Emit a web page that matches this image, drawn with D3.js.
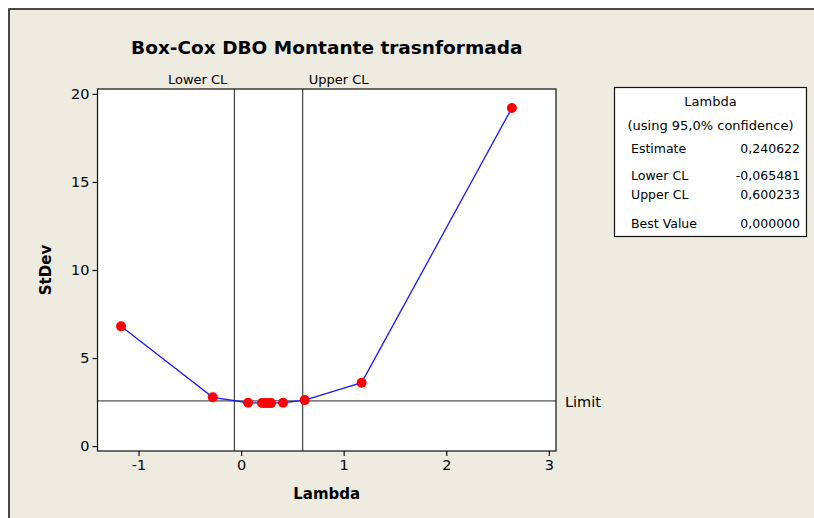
<!DOCTYPE html>
<html>
<head>
<meta charset="utf-8">
<script src="https://cdn.jsdelivr.net/npm/d3@7"></script>
<style>
  html, body { margin: 0; padding: 0; background: #ffffff; }
  svg { display: block; }
  text { font-family: "DejaVu Sans", Verdana, sans-serif; fill: #000; }
</style>
</head>
<body>
<svg id="chart" width="814" height="518"></svg>
<script>
// Box-Cox search: lambda values tried and the resulting standard deviation
const lambdas = [-1.17, -0.276, 0.068, 0.204, 0.234, 0.263, 0.292, 0.409, 0.62, 1.175, 2.64];
const stdevs  = [6.8, 2.77, 2.46, 2.45, 2.44, 2.44, 2.44, 2.46, 2.61, 3.6, 19.2];

const lowerCL = -0.065481;
const upperCL = 0.600233;
const limit = 2.57;

const xTicks = [-1, 0, 1, 2, 3];
const yTicks = [0, 5, 10, 15, 20];

const tableRows = [
  ["Estimate", "0,240622"],
  ["Lower CL", "-0,065481"],
  ["Upper CL", "0,600233"],
  ["Best Value", "0,000000"]
];

const svg = d3.select("#chart");
const W = 814, H = 518;

// outer panel
svg.append("rect").attr("x", 0).attr("y", 0).attr("width", W).attr("height", H).attr("fill", "#ffffff");
svg.append("rect").attr("x", 9).attr("y", 9).attr("width", W).attr("height", H)
  .attr("fill", "#eeebe1").attr("stroke", "#111").attr("stroke-width", 1.5);

const plot = { left: 97.5, top: 89, right: 556, bottom: 451 };

const x = d3.scaleLinear().domain([-1.4, 3.07]).range([plot.left, plot.right]);
const y = d3.scaleLinear().domain([-0.28, 20.28]).range([plot.bottom, plot.top]);

// plot area
svg.append("rect")
  .attr("x", plot.left).attr("y", plot.top)
  .attr("width", plot.right - plot.left).attr("height", plot.bottom - plot.top)
  .attr("fill", "#ffffff");

// confidence limits
[lowerCL, upperCL].forEach(v => {
  svg.append("line")
    .attr("x1", x(v)).attr("x2", x(v)).attr("y1", plot.top).attr("y2", plot.bottom)
    .attr("stroke", "#444").attr("stroke-width", 1.2);
});
svg.append("text").attr("x", x(lowerCL) - 7).attr("y", 84)
  .attr("text-anchor", "end").attr("font-size", 13).text("Lower CL");
svg.append("text").attr("x", x(upperCL) + 6).attr("y", 84)
  .attr("text-anchor", "start").attr("font-size", 13).text("Upper CL");

// limit line
svg.append("line")
  .attr("x1", plot.left).attr("x2", plot.right).attr("y1", y(limit)).attr("y2", y(limit))
  .attr("stroke", "#555").attr("stroke-width", 1.2);
svg.append("text").attr("x", 565).attr("y", y(limit) + 6)
  .attr("font-size", 14.5).text("Limit");

// series
const pts = lambdas.map((l, i) => [l, stdevs[i]]);
svg.append("path")
  .datum(pts)
  .attr("fill", "none").attr("stroke", "#1a1aff").attr("stroke-width", 1.3)
  .attr("d", d3.line().x(d => x(d[0])).y(d => y(d[1])));
svg.selectAll("circle.pt").data(pts).enter().append("circle")
  .attr("class", "pt")
  .attr("cx", d => x(d[0])).attr("cy", d => y(d[1])).attr("r", 5)
  .attr("fill", "#ff0000");

// frame
svg.append("rect")
  .attr("x", plot.left).attr("y", plot.top)
  .attr("width", plot.right - plot.left).attr("height", plot.bottom - plot.top)
  .attr("fill", "none").attr("stroke", "#111").attr("stroke-width", 1.2);

// axes (plain hyphen for negatives)
const fmt = d => String(d);
const xAxis = svg.append("g").attr("transform", `translate(0,${plot.bottom})`)
  .call(d3.axisBottom(x).tickValues(xTicks).tickSize(5).tickPadding(4).tickFormat(fmt));
const yAxis = svg.append("g").attr("transform", `translate(${plot.left},0)`)
  .call(d3.axisLeft(y).tickValues(yTicks).tickSize(5).tickPadding(3).tickFormat(fmt));
[xAxis, yAxis].forEach(g => {
  g.select(".domain").remove();
  g.selectAll(".tick line").attr("stroke", "#111").attr("stroke-width", 1.2);
  g.selectAll(".tick text").attr("font-size", 14.5).attr("font-family", "DejaVu Sans, Verdana, sans-serif").attr("fill", "#000");
});

// titles
svg.append("text").attr("x", (plot.left + plot.right) / 2).attr("y", 54)
  .attr("text-anchor", "middle").attr("font-size", 18.5).attr("font-weight", "bold")
  .text("Box-Cox DBO Montante trasnformada");
svg.append("text").attr("x", (plot.left + plot.right) / 2).attr("y", 499)
  .attr("text-anchor", "middle").attr("font-size", 15).attr("font-weight", "bold")
  .text("Lambda");
svg.append("text").attr("transform", `translate(51,${(plot.top + plot.bottom) / 2}) rotate(-90)`)
  .attr("text-anchor", "middle").attr("font-size", 15).attr("font-weight", "bold")
  .text("StDev");

// lambda summary box
const box = { x: 614.5, y: 87.5, w: 192, h: 149 };
svg.append("rect").attr("x", box.x).attr("y", box.y).attr("width", box.w).attr("height", box.h)
  .attr("fill", "#ffffff").attr("stroke", "#111").attr("stroke-width", 1.2);
svg.append("text").attr("x", box.x + box.w / 2).attr("y", 106)
  .attr("text-anchor", "middle").attr("font-size", 13).text("Lambda");
svg.append("text").attr("x", box.x + box.w / 2).attr("y", 130)
  .attr("text-anchor", "middle").attr("font-size", 13).text("(using 95,0% confidence)");
const rowY = [153, 180, 199, 228];
tableRows.forEach((r, i) => {
  svg.append("text").attr("x", 631).attr("y", rowY[i]).attr("font-size", 12.5).text(r[0]);
  svg.append("text").attr("x", 800).attr("y", rowY[i]).attr("text-anchor", "end").attr("font-size", 12.5).text(r[1]);
});
</script>
</body>
</html>
